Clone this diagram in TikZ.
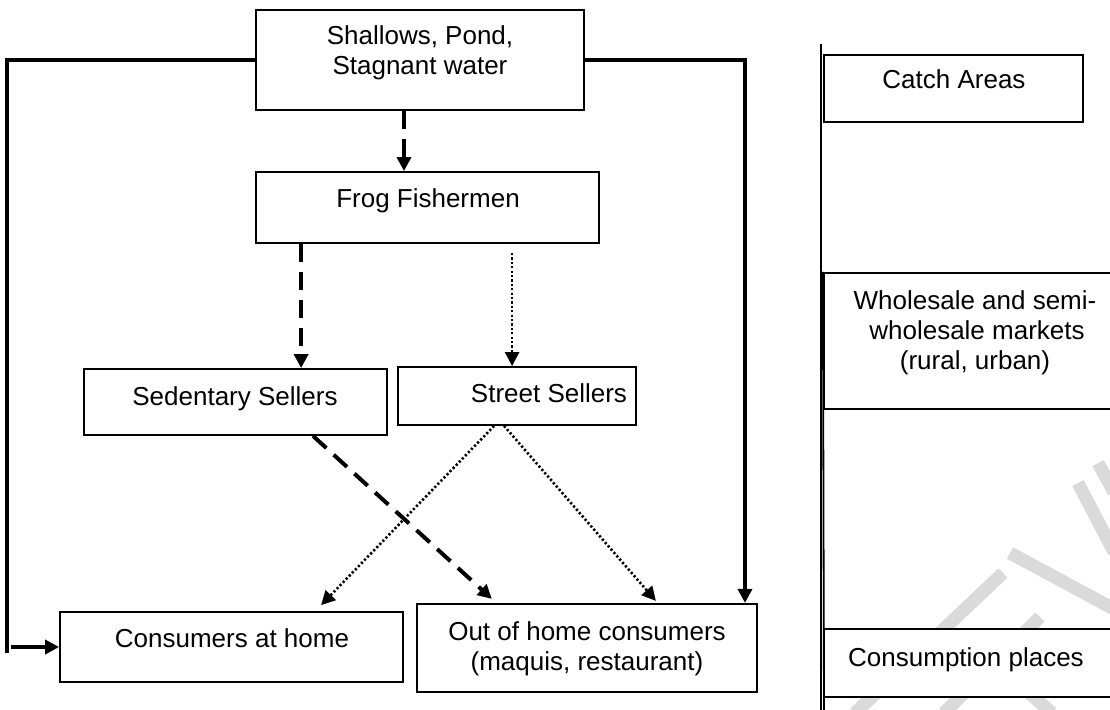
\documentclass[tikz,border=0pt]{standalone}
\usepackage{fontspec}
\setmainfont{Liberation Sans}
\usetikzlibrary{arrows.meta,fit}
\definecolor{wm}{RGB}{218,218,218}
\begin{document}
\begin{tikzpicture}[x=0.5pt,y=-0.5pt,
  boxn/.style={draw,fill=white,line width=0.9pt,inner sep=0pt},
  boxr/.style={draw,fill=white,line width=1.1pt,inner sep=0pt},
  lbl/.style={font=\fontsize{13pt}{15pt}\selectfont,anchor=base,inner sep=0pt},
  tip/.style={-{Triangle[length=7pt,width=7pt]}},
  solidline/.style={line width=1.7pt},
  dashline/.style={line width=2pt,dash pattern=on 9pt off 5pt},
  dotline/.style={line width=1.3pt,dash pattern=on 1.1pt off 1.1pt},
  wmark/.style={draw=wm,line width=6.5pt}]
\useasboundingbox (0,0) rectangle (1110,709);
% faint watermark strokes
\draw[wmark] (1098,463) -- (1114,492);
\draw[wmark] (1078,483) -- (1114,552);
\draw[wmark] (1010,553) -- (1114,609);
\draw[wmark] (1003,573) -- (855,713);
\draw[wmark] (1040,617) -- (944,713);
\draw[wmark] (1028,692) -- (1052,713);
% left diagram boxes
\node[boxn,fit={(256,10) (584,110)}] (T) {};
\node[boxn,fit={(256,172) (599,243)}] (F) {};
\node[boxn,fit={(84,369) (387,435)}] (S) {};
\node[boxn,fit={(398,367) (636,425)}] (St) {};
\node[boxn,fit={(60,612) (403,682)}] (CH) {};
\node[boxr,fit={(417,604) (757,692)}] (OH) {};
% right column
\node[boxr,fit={(824,55) (1083,122)}] (C) {};
\node[boxr,fit={(824,273) (1130,409)}] (W) {};
\node[boxr,fit={(824,629) (1130,697)}] (CP) {};
\draw[line width=0.9pt] (821,44) -- (821,712);
\draw[line width=0.9pt] (W.north west) -- (824,712);
% labels
\node[lbl] (T1) at (420,44) {Shallows, Pond,};
\node[lbl] (T2) at (420,74) {Stagnant water};
\node[lbl] (F1) at (428,207) {Frog Fishermen};
\node[lbl] (S1) at (235,405) {Sedentary Sellers};
\node[lbl] (St1) at (549,402) {Street Sellers};
\node[lbl] (CH1) at (232,647) {Consumers at home};
\node[lbl] (OH1) at (587,640) {Out of home consumers};
\node[lbl] (OH2) at (587,670) {(maquis, restaurant)};
\node[lbl] (C1) at (954,88) {Catch Areas};
\node[lbl] (W1) at (975,309) {Wholesale and semi-};
\node[lbl] (W2) at (977,339) {wholesale markets};
\node[lbl] (W3) at (975,369) {(rural, urban)};
\node[lbl] (CP1) at (966,666) {Consumption places};
% connectors
\draw[dashline,tip] ([xshift=-8pt]T.south) -- ([xshift=-8pt]T.south |- F.north);
\draw[dashline,tip] ([xshift=23pt]F.south west) -- ([xshift=23pt]F.south west |- S.north);
\draw[dotline,tip] ([xshift=128.5pt,yshift=-4.5pt]F.south west) -- ([xshift=128.5pt]F.south west |- St.north);
\draw[dashline,tip] ([xshift=38.75pt]S.south) -- ([xshift=38pt,yshift=2pt]OH.north west);
\draw[dotline,tip] ([xshift=48.5pt]St.south west) -- ([xshift=131pt,yshift=3pt]CH.north west);
\draw[dotline,tip] ([xshift=53.5pt]St.south west) -- ([xshift=120pt,yshift=1pt]OH.north west);
\draw[solidline] (T.west) -| ([xshift=-26pt,yshift=-3pt]CH.west);
\draw[solidline,tip] ([xshift=-24pt]CH.west) -- (CH.west);
\draw[solidline,tip] (T.east) -| ([xshift=79pt]OH.north);
\end{tikzpicture}
\end{document}
